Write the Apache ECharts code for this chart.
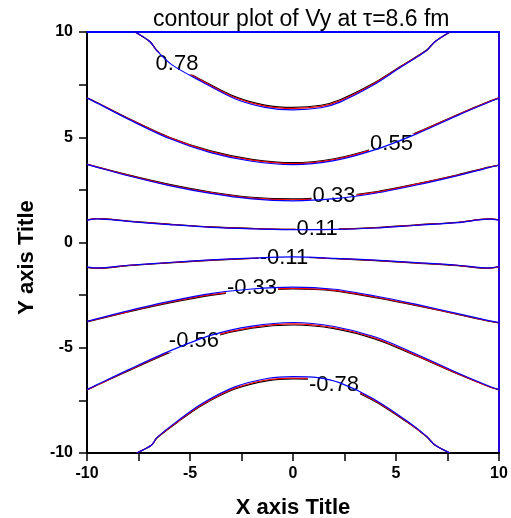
<!DOCTYPE html>
<html>
<head>
    <meta http-equiv="Content-Type" content="text/html; charset=UTF-8">
    <title>contour plot of Vy</title>
    <script src="https://cdn.jsdelivr.net/npm/echarts@6/dist/echarts.min.js"></script>
</head>
<body style="margin:0">
<div id="contour" style="width: 511px; height: 518px;"></div>

<script type="text/javascript">
    // shared x positions for the flat-ish contours
    var gx = [-10, -9.5, -8, -6, -4, -2, 0, 2, 4, 6, 8, 9.5, 10];

    // each contour: black / red / blue traces
    var c055k = [6.88, 6.64, 5.90, 5.00, 4.35, 3.95, 3.79, 3.98, 4.49, 5.22, 6.08, 6.69, 6.87];
    var c055r = [6.88, 6.64, 5.89, 4.98, 4.32, 3.91, 3.75, 3.94, 4.46, 5.20, 6.07, 6.68, 6.87];
    var c055b = [6.86, 6.62, 5.86, 4.94, 4.27, 3.86, 3.70, 3.89, 4.41, 5.16, 6.04, 6.66, 6.85];

    var c033k = [3.72, 3.59, 3.21, 2.76, 2.40, 2.15, 2.07, 2.17, 2.41, 2.79, 3.22, 3.58, 3.68];
    var c033r = [3.72, 3.58, 3.19, 2.73, 2.37, 2.11, 2.03, 2.13, 2.38, 2.77, 3.20, 3.57, 3.68];
    var c033b = [3.71, 3.57, 3.17, 2.70, 2.33, 2.07, 1.98, 2.08, 2.34, 2.73, 3.18, 3.56, 3.67];

    var c011k = [1.07, 1.13, 1.02, 0.87, 0.74, 0.67, 0.63, 0.64, 0.71, 0.84, 0.96, 1.12, 1.07];
    var c011r = [1.07, 1.13, 1.01, 0.86, 0.73, 0.66, 0.62, 0.63, 0.70, 0.83, 0.95, 1.12, 1.07];
    var c011b = [1.06, 1.12, 1.00, 0.85, 0.72, 0.65, 0.61, 0.62, 0.69, 0.82, 0.94, 1.11, 1.06];

    var cm011k = [-1.18, -1.23, -1.10, -0.97, -0.85, -0.76, -0.70, -0.77, -0.86, -0.98, -1.10, -1.23, -1.15];
    var cm011r = [-1.18, -1.22, -1.09, -0.96, -0.84, -0.75, -0.69, -0.76, -0.85, -0.97, -1.09, -1.22, -1.15];
    var cm011b = [-1.17, -1.21, -1.08, -0.95, -0.83, -0.74, -0.68, -0.75, -0.84, -0.96, -1.08, -1.21, -1.14];

    var cm033k = [-3.77, -3.65, -3.30, -2.87, -2.51, -2.29, -2.21, -2.30, -2.62, -3.00, -3.42, -3.74, -3.82];
    var cm033r = [-3.76, -3.64, -3.28, -2.84, -2.48, -2.26, -2.18, -2.27, -2.59, -2.98, -3.41, -3.73, -3.81];
    var cm033b = [-3.75, -3.62, -3.25, -2.80, -2.43, -2.21, -2.12, -2.22, -2.54, -2.94, -3.38, -3.71, -3.80];

    var cm056k = [-7.00, -6.77, -6.10, -5.23, -4.51, -4.07, -3.92, -4.09, -4.59, -5.39, -6.25, -6.84, -7.00];
    var cm056r = [-7.00, -6.77, -6.08, -5.20, -4.47, -4.03, -3.87, -4.05, -4.55, -5.36, -6.23, -6.84, -7.00];
    var cm056b = [-6.99, -6.75, -6.05, -5.16, -4.41, -3.97, -3.80, -3.99, -4.49, -5.31, -6.20, -6.82, -6.99];

    // the two arcs that end on the top / bottom edge
    var c078x = [-7.67, -6.94, -6.62, -5.89, -4.43, -2.82, -1.36, 0, 1.36, 2.28, 3.90, 5.19, 6.49, 6.89, 7.62];
    var c078k = [10, 9.54, 9.14, 8.51, 7.72, 6.93, 6.53, 6.42, 6.52, 6.78, 7.56, 8.35, 9.14, 9.54, 10];
    var c078r = [10, 9.54, 9.13, 8.49, 7.69, 6.89, 6.48, 6.37, 6.47, 6.73, 7.53, 8.33, 9.13, 9.54, 10];
    var c078b = [10, 9.54, 9.12, 8.45, 7.64, 6.83, 6.42, 6.30, 6.40, 6.67, 7.48, 8.30, 9.12, 9.54, 10];

    var cm078x = [-7.59, -6.86, -6.62, -5.57, -4.43, -2.82, -1.20, 0, 1.20, 2.28, 3.90, 5.52, 6.49, 6.89, 7.62];
    var cm078k = [-10, -9.62, -9.30, -8.51, -7.74, -6.96, -6.56, -6.48, -6.53, -6.77, -7.50, -8.52, -9.23, -9.62, -10];
    var cm078r = [-10, -9.62, -9.29, -8.49, -7.71, -6.92, -6.52, -6.44, -6.49, -6.73, -7.47, -8.50, -9.22, -9.62, -10];
    var cm078b = [-10, -9.62, -9.28, -8.45, -7.66, -6.86, -6.45, -6.37, -6.42, -6.67, -7.42, -8.47, -9.21, -9.62, -10];

    // contour labels
    var labelText = ['0.78', '0.55', '0.33', '0.11', '-0.11', '-0.33', '-0.56', '-0.78'];
    var labelX = [-5.63, 4.78, 1.99, 1.17, -0.44, -1.99, -4.81, 1.99];
    var labelY = [8.50, 4.66, 2.19, 0.64, -0.71, -2.16, -4.70, -6.77];

    var fontName = '"Liberation Sans", Arial, sans-serif';

    function pairs(xs, ys) {
        var res = [];
        for (var i = 0; i < xs.length; i++) {
            res.push([xs[i], ys[i]]);
        }
        return res;
    }

    function trace(xs, ys, color, z) {
        return {
            type: 'line',
            data: pairs(xs, ys),
            smooth: 0.3,
            symbol: 'none',
            z: z,
            lineStyle: {color: color, width: 1.2},
            silent: true
        };
    }

    var contours = [
        [gx, c055k, c055r, c055b],
        [gx, c033k, c033r, c033b],
        [gx, c011k, c011r, c011b],
        [gx, cm011k, cm011r, cm011b],
        [gx, cm033k, cm033r, cm033b],
        [gx, cm056k, cm056r, cm056b],
        [c078x, c078k, c078r, c078b],
        [cm078x, cm078k, cm078r, cm078b]
    ];

    var series = [];
    for (var i = 0; i < contours.length; i++) {
        var c = contours[i];
        series.push(trace(c[0], c[1], '#000000', 1));
        series.push(trace(c[0], c[2], '#ff0000', 2));
        series.push(trace(c[0], c[3], '#0000ff', 4));
    }

    var labelData = [];
    for (var j = 0; j < labelText.length; j++) {
        labelData.push({value: [labelX[j], labelY[j]], name: labelText[j]});
    }
    series.push({
        type: 'scatter',
        data: labelData,
        symbolSize: 1,
        z: 3,
        silent: true,
        itemStyle: {color: 'rgba(0,0,0,0)'},
        label: {
            show: true,
            position: 'inside',
            formatter: '{b}',
            color: '#000000',
            opacity: 1,
            fontSize: 22,
            fontWeight: 'normal',
            fontFamily: fontName,
            backgroundColor: '#ffffff',
            padding: [0, 1]
        }
    });

    var chart = echarts.init(document.getElementById('contour'));
    chart.setOption({
        animation: false,
        backgroundColor: '#fff',
        title: {
            text: 'contour plot of Vy at \u03c4=8.6 fm',
            left: 153,
            top: 8,
            padding: 0,
            textStyle: {fontSize: 23, fontWeight: 'normal', color: '#000', fontFamily: fontName}
        },
        grid: {left: 87, right: 12, top: 32, bottom: 65, outerBoundsMode: 'none'},
        xAxis: [{
            type: 'value',
            min: -10, max: 10, interval: 2.5,
            position: 'bottom',
            splitLine: {show: false},
            axisLine: {onZero: false, lineStyle: {color: '#000', width: 2}},
            axisTick: {length: 8, lineStyle: {color: '#000', width: 1.5}},
            axisLabel: {
                margin: 13, color: '#000', fontSize: 16, fontWeight: 'bold', fontFamily: fontName,
                formatter: function (v) { return v % 5 === 0 ? String(v) : ''; }
            },
            name: 'X axis Title',
            nameLocation: 'middle',
            nameGap: 44,
            nameTextStyle: {fontSize: 22, fontWeight: 'bold', color: '#000', fontFamily: fontName}
        }, {
            type: 'value',
            min: -10, max: 10,
            position: 'top',
            splitLine: {show: false},
            axisLine: {onZero: false, lineStyle: {color: '#0000ff', width: 2}},
            axisTick: {show: false},
            axisLabel: {show: false}
        }],
        yAxis: [{
            type: 'value',
            min: -10, max: 10, interval: 2.5,
            position: 'left',
            splitLine: {show: false},
            axisLine: {onZero: false, lineStyle: {color: '#000', width: 2}},
            axisTick: {length: 8, lineStyle: {color: '#000', width: 1.5}},
            axisLabel: {
                margin: 14, color: '#000', fontSize: 16, fontWeight: 'bold', fontFamily: fontName,
                formatter: function (v) { return v % 5 === 0 ? String(v) : ''; }
            },
            name: 'Y axis Title',
            nameLocation: 'middle',
            nameGap: 49,
            nameTextStyle: {fontSize: 22, fontWeight: 'bold', color: '#000', fontFamily: fontName, padding: [0, 30, 0, 0]}
        }, {
            type: 'value',
            min: -10, max: 10,
            position: 'right',
            splitLine: {show: false},
            axisLine: {onZero: false, lineStyle: {color: '#2200dd', width: 2}},
            axisTick: {show: false},
            axisLabel: {show: false}
        }],
        series: series
    });
</script>

</body>
</html>
